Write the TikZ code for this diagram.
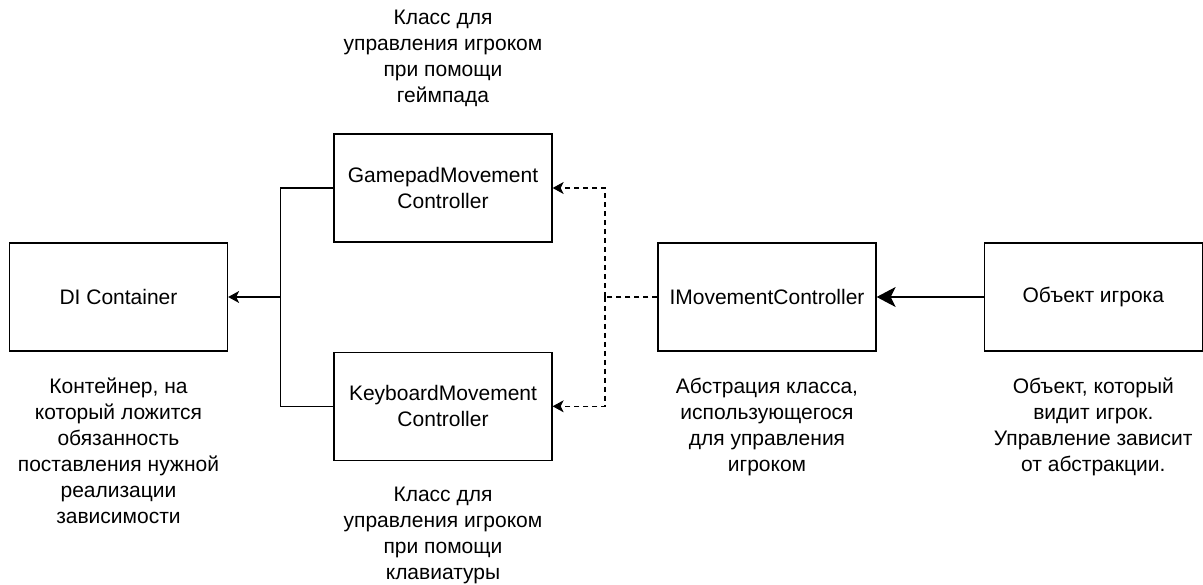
\documentclass[tikz,border=0pt]{standalone}
\usepackage{fontspec}
\setmainfont{Liberation Sans}
\usetikzlibrary{positioning,calc,arrows.meta}
\begin{document}
\begin{tikzpicture}[x=1pt,y=1pt,line width=1.1pt,
    font=\fontsize{21}{26}\selectfont,
    box/.style={draw=black,line width=1.3pt,minimum width=218pt,minimum height=108pt,inner sep=0pt,align=center},
    note/.style={align=center,inner sep=0pt},
    dsh/.style={dash pattern=on 5pt off 4pt},
    arr/.style={-{Stealth[length=11pt,width=12pt,inset=3pt]}}]
    \useasboundingbox (0,0) rectangle (1203,-585);
    \node[box] (di) at (118.5,-297) {DI Container};
    \node[box] (gp) at (443,-188) {GamepadMovement\\Controller};
    \node[box,below=109pt of gp] (kb) {KeyboardMovement\\Controller};
    \node[box] (im) at (767,-297) {IMovementController};
    \node[box,right=107pt of im] (ob) {Объект игрока};
    \node[note,above=26pt of gp] (gpl) {Класс для\\управления игроком\\при помощи\\геймпада};
    \node[note,below=26pt of kb] (kbl) {Класс для\\управления игроком\\при помощи\\клавиатуры};
    \node[note,below=26pt of di] (dil) {Контейнер, на\\который ложится\\обязанность\\поставления нужной\\реализации\\зависимости};
    \node[note,below=26pt of im] (iml) {Абстрация класса,\\использующегося\\для управления\\игроком};
    \node[note,below=26pt of ob] (obl) {Объект, который\\видит игрок.\\Управление зависит\\от абстракции.};
    \coordinate (jl) at ($(di.east)!.5!(gp.west |- di.east)$);
    \coordinate (jr) at ($(im.west)!.5!(gp.east |- im.west)$);
    \draw (gp.west) -| (jl) |- (kb.west);
    \draw[arr] (jl) -- (di);
    \draw[dsh] (im) -- (jr);
    \draw[dsh,arr] (jr) |- (gp);
    \draw[dsh,arr] (jr) |- (kb);
    \draw[-{Stealth[length=19pt,width=20pt,inset=5pt]}] (ob) -- (im);
\end{tikzpicture}
\end{document}
